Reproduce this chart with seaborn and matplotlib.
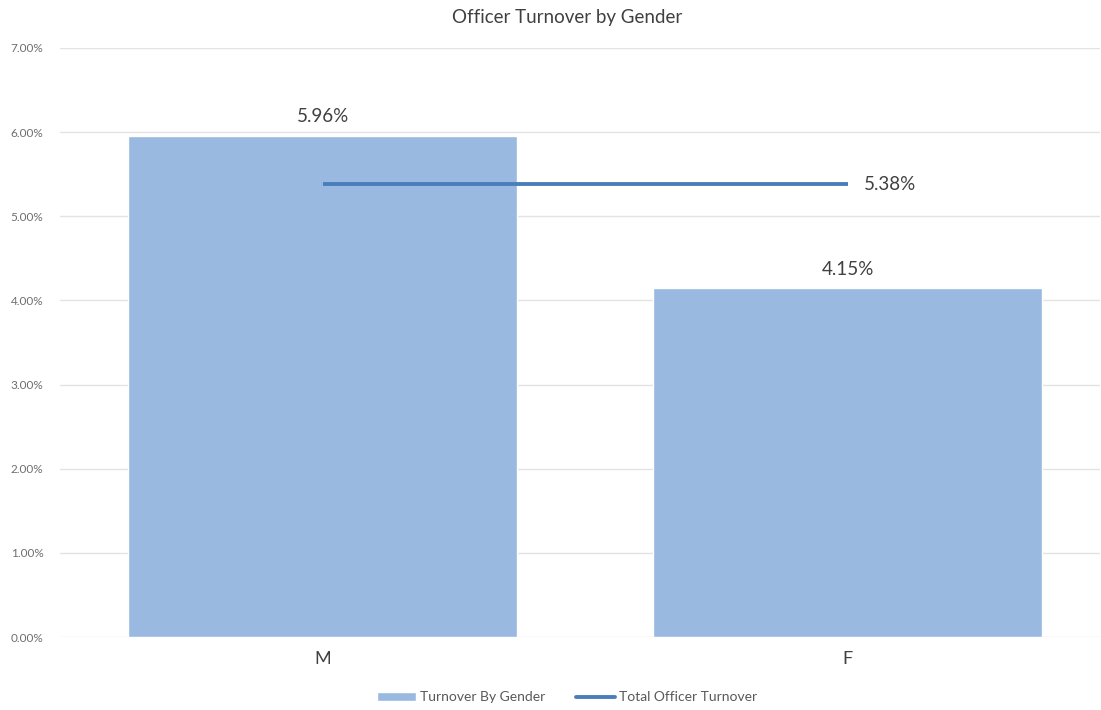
import numpy as np
import pandas as pd
import matplotlib
matplotlib.use('Agg')
import matplotlib.pyplot as plt
import seaborn as sns
from matplotlib.ticker import FuncFormatter, MultipleLocator
from matplotlib.patches import Patch
from matplotlib.lines import Line2D

# ── data ──
genders  = ['M', 'F']
turnover = [5.96, 4.15]          # percent
total_turnover = 5.38            # percent

df = pd.DataFrame({'gender': genders, 'turnover': turnover})

sns.set_style('white')
plt.rcParams['font.family'] = ['Lato', 'DejaVu Sans']

bar_color  = '#99B9E0'
line_color = '#4A7EBB'
text_color = '#404040'

fig = plt.figure(figsize=(11.01, 7.10), dpi=100)
ax = fig.add_axes([0.0545, 0.1028, 0.9445, 0.8296])

sns.barplot(data=df, x='gender', y='turnover', color=bar_color,
            width=0.74, saturation=1, ax=ax, zorder=2)

# total line between bar centres
ax.plot([0, 1], [total_turnover, total_turnover], color=line_color,
        lw=2.8, zorder=3, solid_capstyle='butt')
ax.text(1.03, total_turnover, f'{total_turnover:.2f}%', va='center',
        ha='left', fontsize=13.5, color=text_color)

# bar labels
for i, v in enumerate(turnover):
    ax.text(i, v + 0.12, f'{v:.2f}%', ha='center', va='bottom',
            fontsize=13.5, color=text_color)

ax.set_ylim(0, 7)
ax.set_xlim(-0.5, 1.48)
ax.yaxis.set_major_locator(MultipleLocator(1))
ax.yaxis.set_major_formatter(FuncFormatter(lambda v, p: f'{v:.2f}%'))
ax.grid(axis='y', color='#E3E3E3', lw=1, zorder=0)
ax.set_axisbelow(True)
ax.tick_params(axis='y', labelsize=8.5, colors='#6E6E6E', length=0, pad=12)
ax.tick_params(axis='x', labelsize=13, colors=text_color, length=0, pad=10)
ax.set_xlabel('')
ax.set_ylabel('')
for s in ax.spines.values():
    s.set_visible(False)

fig.suptitle('Officer Turnover by Gender', x=0.515, y=0.987, fontsize=13.5,
             color=text_color)

handles = [Patch(facecolor=bar_color, label='Turnover By Gender'),
           Line2D([0], [0], color=line_color, lw=2.8,
                  label='Total Officer Turnover')]
fig.legend(handles=handles, loc='lower center', ncol=2, frameon=False,
           fontsize=10, bbox_to_anchor=(0.515, -0.008), handlelength=2.8,
           handleheight=0.6, handletextpad=0.3, columnspacing=2.2,
           labelcolor='#595959')

fig.savefig('out.png', dpi=100)
